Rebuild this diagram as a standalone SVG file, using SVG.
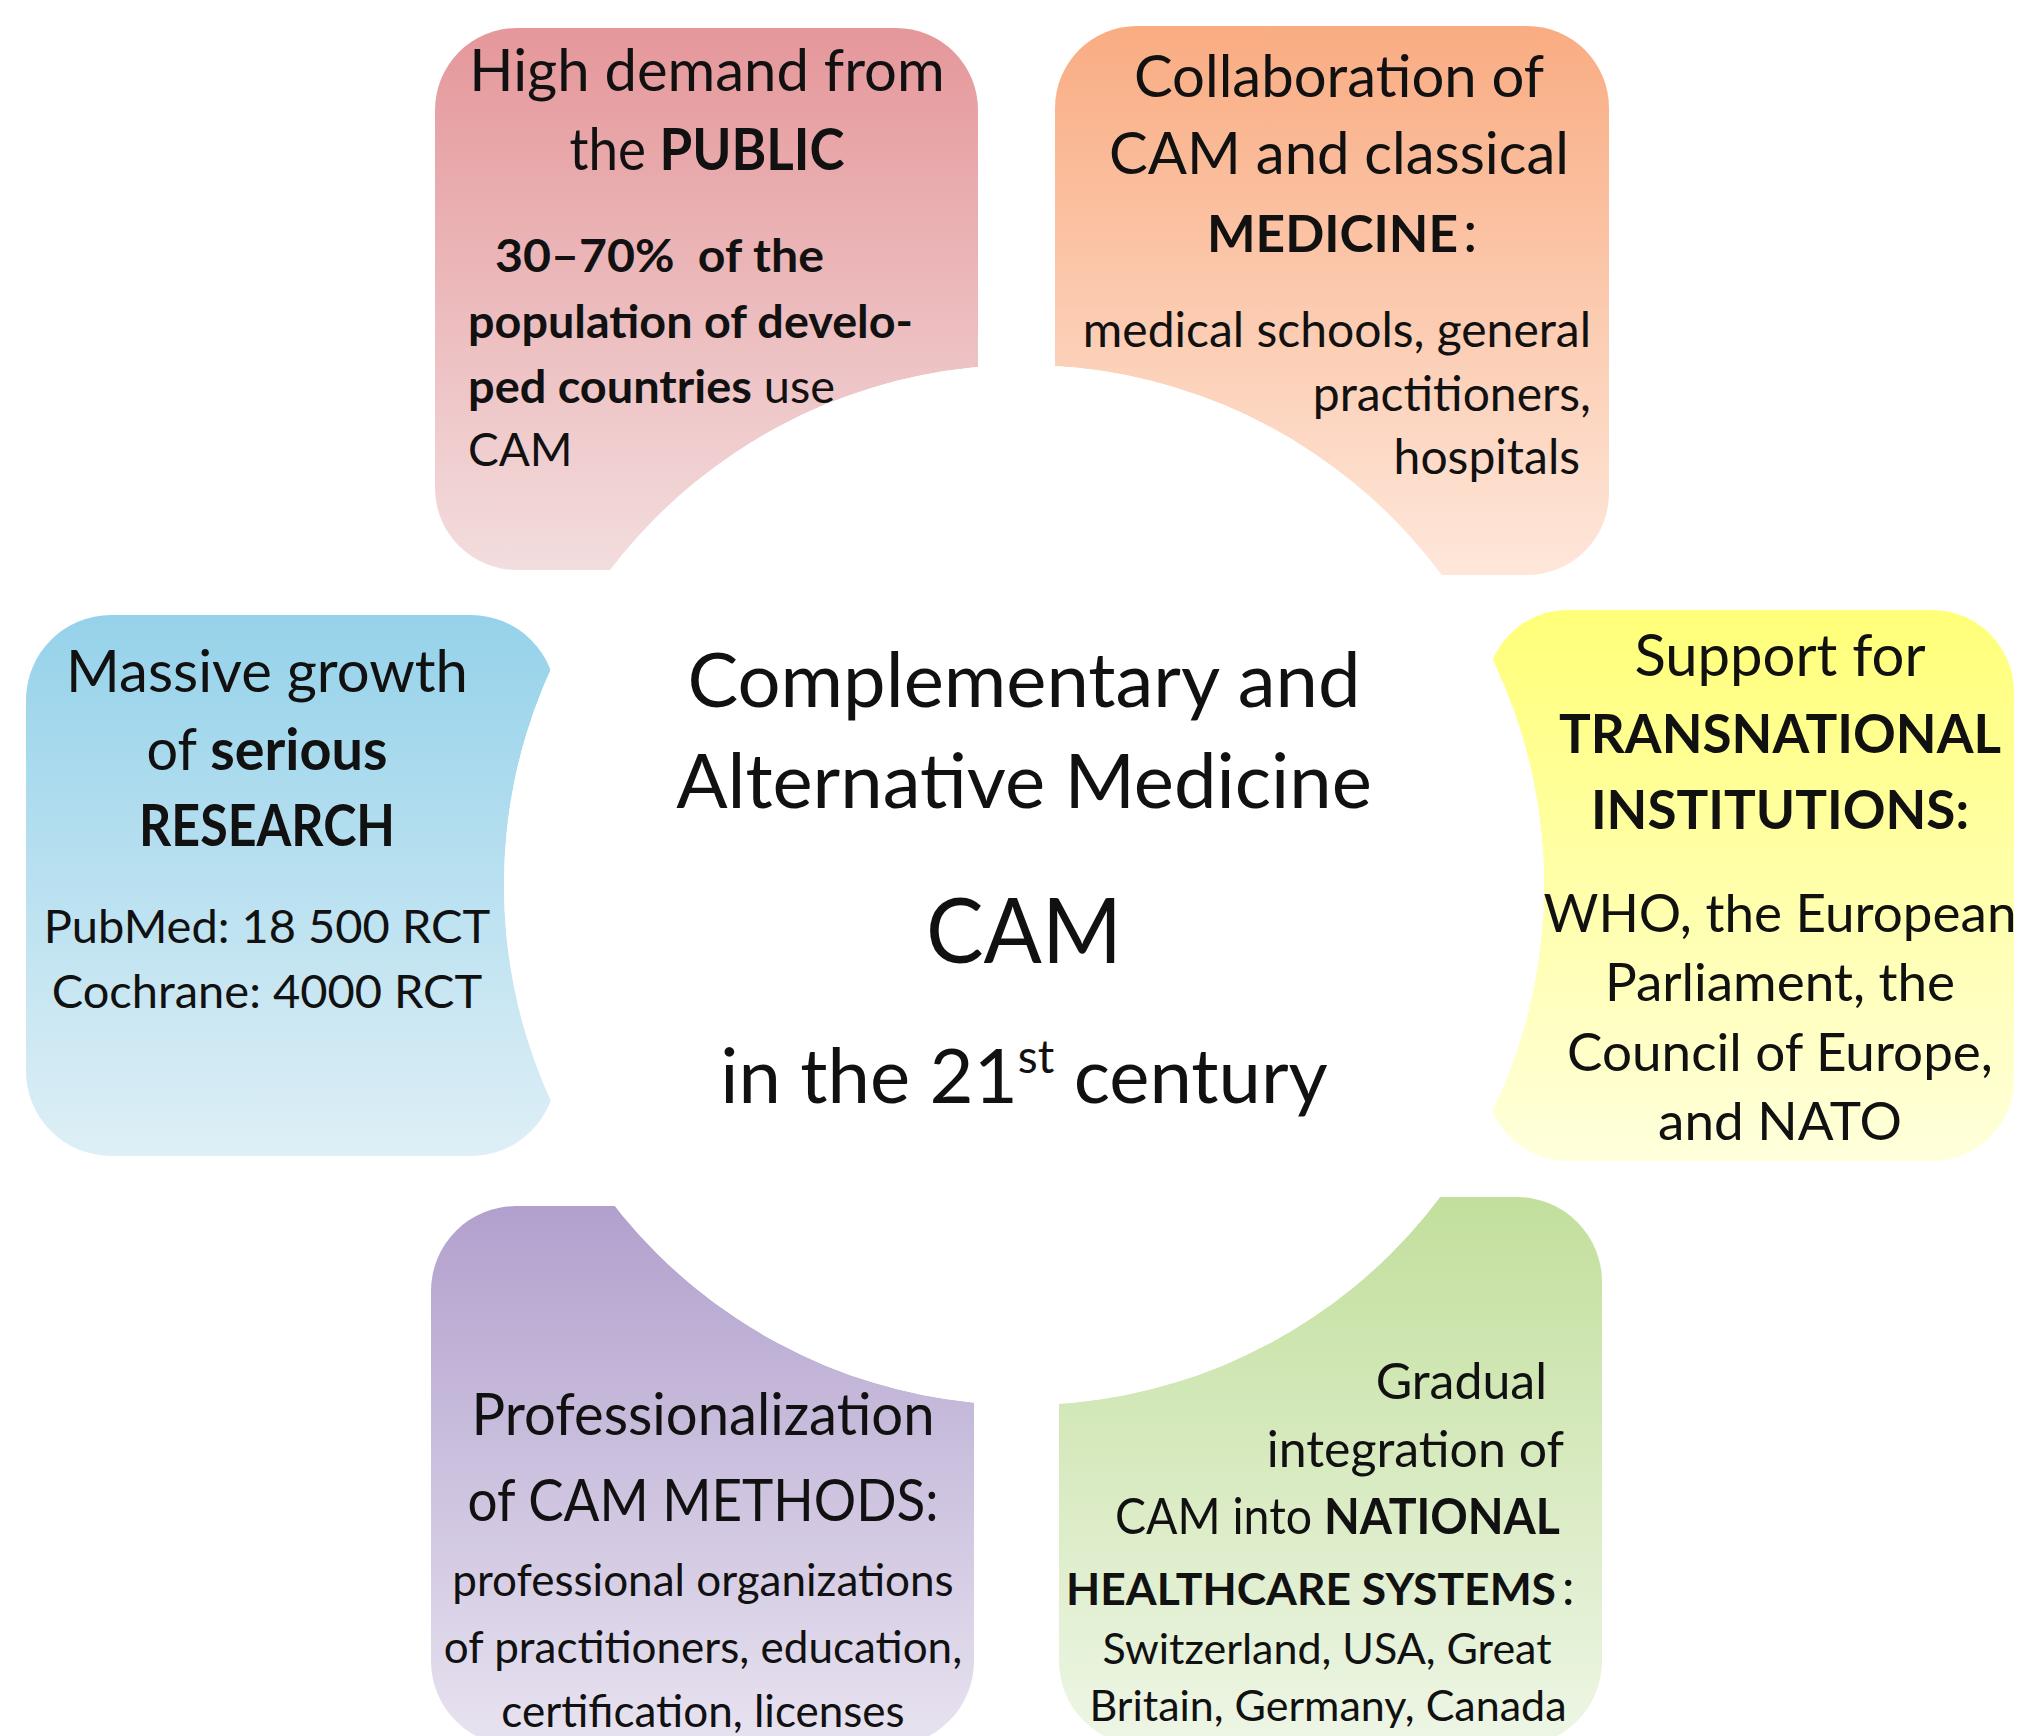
<svg xmlns="http://www.w3.org/2000/svg" width="2018" height="1736" viewBox="0 0 2018 1736">
<style>
.t{font-family:Lato,"Liberation Sans",sans-serif;fill:#111}
.b{font-weight:700}
.c{text-anchor:middle}
.e{text-anchor:end}
.title{font-size:58px}
</style>
<defs>
<linearGradient id="gPink" x1="0" y1="0" x2="0" y2="1"><stop offset="0" stop-color="#E5979A"/><stop offset="1" stop-color="#F3DDDE"/></linearGradient>
<linearGradient id="gOrange" x1="0" y1="0" x2="0" y2="1"><stop offset="0" stop-color="#F9AC82"/><stop offset="1" stop-color="#FEE7DA"/></linearGradient>
<linearGradient id="gBlue" x1="0" y1="0" x2="0" y2="1"><stop offset="0" stop-color="#95D2EA"/><stop offset="1" stop-color="#DEEFF6"/></linearGradient>
<linearGradient id="gYellow" x1="0" y1="0" x2="0" y2="1"><stop offset="0" stop-color="#FFFF78"/><stop offset="1" stop-color="#FFFFDC"/></linearGradient>
<linearGradient id="gPurple" x1="0" y1="0" x2="0" y2="1"><stop offset="0" stop-color="#B1A0CD"/><stop offset="1" stop-color="#E8E3F0"/></linearGradient>
<linearGradient id="gGreen" x1="0" y1="0" x2="0" y2="1"><stop offset="0" stop-color="#C2DF9C"/><stop offset="1" stop-color="#EEF6E6"/></linearGradient>
<mask id="cut" maskUnits="userSpaceOnUse" x="0" y="0" width="2018" height="1736">
<rect x="0" y="0" width="2018" height="1736" fill="#fff"/>
<circle cx="1024" cy="885" r="520" fill="#000"/>
</mask>
</defs>
<rect x="0" y="0" width="2018" height="1736" fill="#fff"/>
<g id="connectors"/>
<g id="node-public">
<rect x="435" y="28" width="543" height="542" rx="82" fill="url(#gPink)" mask="url(#cut)"/>
<text class="t title c" x="707" y="91">High demand from</text>
<text class="t title c" x="707" y="170" textLength="275" lengthAdjust="spacingAndGlyphs">the <tspan class="b">PUBLIC</tspan></text>
<text class="t b" x="495" y="272" font-size="46" textLength="329" lengthAdjust="spacingAndGlyphs">30–70%&#160; of the</text>
<text class="t b" x="468" y="338" font-size="46" textLength="445" lengthAdjust="spacingAndGlyphs">population of develo-</text>
<text class="t" x="468" y="403" font-size="46" textLength="367" lengthAdjust="spacingAndGlyphs"><tspan class="b">ped countries</tspan> use</text>
<text class="t" x="468" y="466" font-size="46">CAM</text>
</g>
<g id="node-medicine">
<rect x="1055" y="26" width="554" height="549" rx="82" fill="url(#gOrange)" mask="url(#cut)"/>
<text class="t title c" x="1339" y="97">Collaboration of</text>
<text class="t title c" x="1339" y="174">CAM and classical</text>
<text class="t b" x="1207" y="252" font-size="52" textLength="251" lengthAdjust="spacingAndGlyphs">MEDICINE</text>
<text class="t title" x="1463" y="252">:</text>
<text class="t e" x="1591" y="347" font-size="48">medical schools, general</text>
<text class="t e" x="1591" y="411" font-size="48">practitioners,</text>
<text class="t e" x="1580" y="474" font-size="48">hospitals</text>
</g>
<g id="node-research">
<rect x="26" y="615" width="530" height="541" rx="85" fill="url(#gBlue)" mask="url(#cut)"/>
<text class="t title c" x="267" y="692">Massive growth</text>
<text class="t title c" x="267" y="770" textLength="241" lengthAdjust="spacingAndGlyphs">of <tspan class="b">serious</tspan></text>
<text class="t title c b" x="267" y="846" textLength="256" lengthAdjust="spacingAndGlyphs">RESEARCH</text>
<text class="t c" x="267" y="943" font-size="47">PubMed: 18 500 RCT</text>
<text class="t c" x="267" y="1008" font-size="47">Cochrane: 4000 RCT</text>
</g>
<g id="node-transnational">
<rect x="1486" y="610" width="528" height="551" rx="82" fill="url(#gYellow)" mask="url(#cut)"/>
<text class="t title c" x="1780" y="676">Support for</text>
<text class="t c b" x="1780" y="753" font-size="53">TRANSNATIONAL</text>
<text class="t c b" x="1780" y="829" font-size="53">INSTITUTIONS:</text>
<text class="t c" x="1780" y="932" font-size="53">WHO, the European</text>
<text class="t c" x="1780" y="1001" font-size="53">Parliament, the</text>
<text class="t c" x="1780" y="1071" font-size="53">Council of Europe,</text>
<text class="t c" x="1780" y="1140" font-size="53">and NATO</text>
</g>
<g id="node-professionalization">
<rect x="431" y="1206" width="543" height="540" rx="85" fill="url(#gPurple)" mask="url(#cut)"/>
<text class="t title c" x="703" y="1435" textLength="463" lengthAdjust="spacingAndGlyphs">Professionalization</text>
<text class="t title c" x="703" y="1521" textLength="471" lengthAdjust="spacingAndGlyphs">of CAM METHODS:</text>
<text class="t c" x="703" y="1596" font-size="44">professional organizations</text>
<text class="t c" x="703" y="1663" font-size="44">of practitioners, education,</text>
<text class="t c" x="703" y="1727" font-size="44">certification, licenses</text>
</g>
<g id="node-healthcare">
<rect x="1059" y="1197" width="543" height="549" rx="85" fill="url(#gGreen)" mask="url(#cut)"/>
<text class="t e" x="1547" y="1399" font-size="50">Gradual</text>
<text class="t e" x="1564" y="1467" font-size="50">integration of</text>
<text class="t e" x="1560" y="1534" font-size="50" textLength="445" lengthAdjust="spacingAndGlyphs">CAM into <tspan class="b">NATIONAL</tspan></text>
<text class="t b" x="1066" y="1605" font-size="44.5" textLength="490" lengthAdjust="spacingAndGlyphs">HEALTHCARE SYSTEMS</text>
<text class="t" x="1562" y="1605" font-size="50">:</text>
<text class="t c" x="1327" y="1664" font-size="43">Switzerland, USA, Great</text>
<text class="t c" x="1328" y="1721" font-size="43">Britain, Germany, Canada</text>
</g>
<g id="node-center">
<circle cx="1024" cy="885" r="520" fill="#fff"/>
<text class="t c" x="1024" y="707" font-size="76">Complementary and</text>
<text class="t c" x="1024" y="808" font-size="76">Alternative Medicine</text>
<text class="t c" x="1024" y="963" font-size="92" textLength="196" lengthAdjust="spacingAndGlyphs">CAM</text>
<text class="t c" x="1024" y="1103" font-size="76">in the 21<tspan font-size="46" dy="-30">st</tspan><tspan dy="30"> century</tspan></text>
</g>
</svg>
